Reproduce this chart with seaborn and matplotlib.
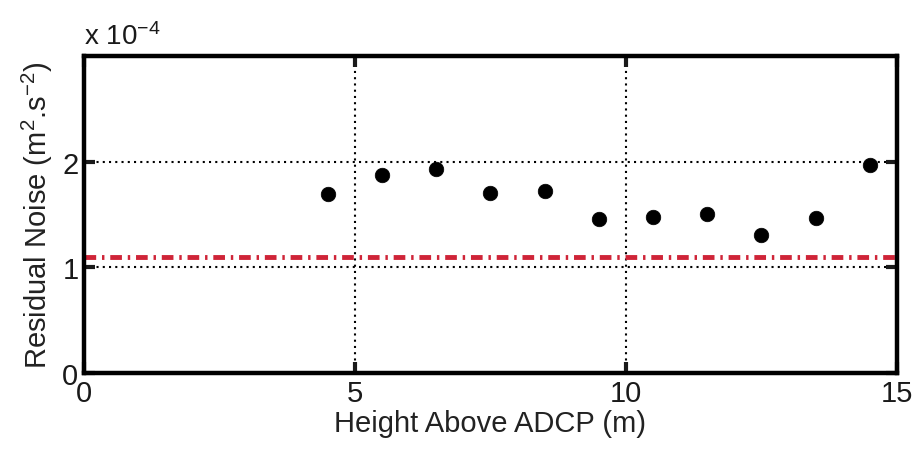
import matplotlib
matplotlib.use("Agg")
import matplotlib.pyplot as plt
import seaborn as sns
import pandas as pd
from matplotlib.ticker import FuncFormatter

height_m = [4.5, 5.5, 6.5, 7.5, 8.5, 9.5, 10.5, 11.5, 12.5, 13.5, 14.5]
residual_noise = [1.69e-4, 1.87e-4, 1.93e-4, 1.70e-4, 1.72e-4, 1.46e-4,
                  1.48e-4, 1.50e-4, 1.31e-4, 1.47e-4, 1.97e-4]
noise_floor = 1.1e-4
x_ticks = [0, 5, 10, 15]
y_ticks = [0, 1e-4, 2e-4]

sns.set_theme(style="white")
plt.rcParams['font.family'] = ['Liberation Sans', 'DejaVu Sans']
plt.rcParams['mathtext.fontset'] = 'custom'
plt.rcParams['mathtext.rm'] = 'Liberation Sans'
plt.rcParams['mathtext.it'] = 'Liberation Sans'
plt.rcParams['mathtext.default'] = 'regular'

fig = plt.figure(figsize=(9.15, 4.52), dpi=100)
ax = fig.add_axes([0.0918, 0.1726, 0.8885, 0.7014])

df = pd.DataFrame({"h": height_m, "n": residual_noise})
sns.scatterplot(data=df, x="h", y="n", ax=ax, color="black", s=110,
                edgecolor="black", linewidth=0.5, zorder=3, legend=False)
ax.axhline(noise_floor, color="#cf2438", lw=3.5, ls=(0, (2.4, 1.2, 0.5, 1.2)), zorder=2)

ax.set_xlim(0, 15)
ax.set_ylim(0, 3e-4)
ax.set_xticks(x_ticks)
ax.set_yticks(y_ticks)
ax.yaxis.set_major_formatter(FuncFormatter(lambda v, p: f"{v/1e-4:g}"))
ax.grid(True, color="black", ls=(0, (1, 2)), lw=1.5)
ax.tick_params(direction="in", length=8, width=3, labelsize=21, colors="#1a1a1a",
               top=True, right=True, bottom=True, left=True, pad=4)
for s in ax.spines.values():
    s.set_linewidth(3.2)
    s.set_color("black")
ax.set_xlabel("Height Above ADCP (m)", fontsize=21, color="#222222", labelpad=2)
ax.set_ylabel("Residual Noise (m$^2$.s$^{-2}$)", fontsize=21, color="#222222", labelpad=5)
ax.text(0.0, 1.02, "x 10$^{-4}$", transform=ax.transAxes, fontsize=20,
        ha="left", va="bottom", color="#1a1a1a")
fig.savefig("out.png", dpi=100)
